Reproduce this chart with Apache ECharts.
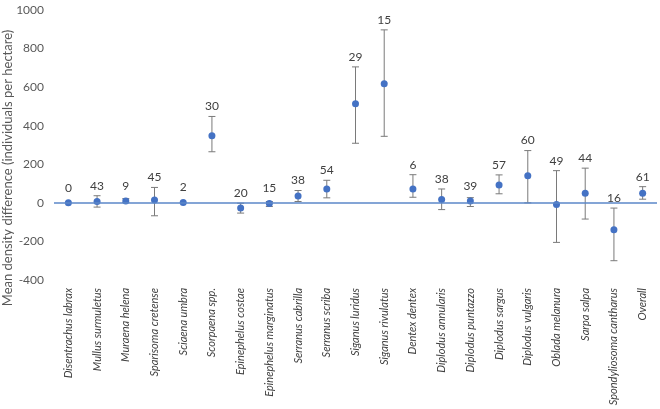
<!DOCTYPE html>
<html><head><meta charset="utf-8">
<script src="https://cdn.jsdelivr.net/npm/echarts@6/dist/echarts.min.js"></script>
<style>html,body{margin:0;padding:0;background:#fff}#c{width:660px;height:409px}</style>
</head><body><div id="c"></div>
<script>
var categories = ['Disentrachus labrax','Mullus surmuletus','Muraena helena','Sparisoma cretense','Sciaena umbra','Scorpaena spp.','Epinephelus costae','Epinephelus marginatus','Serranus cabrilla','Serranus scriba','Siganus luridus','Siganus rivulatus','Dentex dentex','Diplodus annularis','Diplodus puntazzo','Diplodus sargus','Diplodus vulgaris','Oblada melanura','Sarpa salpa','Spondyliosoma cantharus','Overall'];
var means = [0, 7, 10, 15, 2, 348, -27, -3, 36, 72, 514, 617, 72, 17, 10, 93, 141, -9, 50, -140, 50];
var upper = [0, 37, 22, 80, 2, 448, -2, 7, 64, 117, 705, 897, 146, 72, 27, 145, 271, 167, 180, -27, 84];
var lower = [0, -22, 2, -67, 2, 265, -53, -19, 7, 26, 309, 345, 29, -35, -19, 47, 0, -205, -84, -300, 19];
var counts = ['0','43','9','45','2','30','20','15','38','54','29','15','6','38','39','57','60','49','44','16','61'];
var yTicks = {min: -400, max: 1000, interval: 200};

var chart = echarts.init(document.getElementById('c'));
var errData = categories.map(function(c, i){ return [i, lower[i], upper[i], means[i], counts[i]]; });
chart.setOption({
  animation: false,
  grid: {left: 54, right: 3, top: 10, bottom: 129},
  xAxis: {
    type: 'category', data: categories,
    axisLine: {show: false, onZero: false}, axisTick: {show: false},
    axisLabel: {rotate: 90, margin: 8, fontSize: 11, fontStyle: 'italic', color: '#404040', fontFamily: 'Lato', interval: 0}
  },
  yAxis: {
    type: 'value', min: yTicks.min, max: yTicks.max, interval: yTicks.interval,
    splitLine: {show: false}, axisLine: {show: false}, axisTick: {show: false},
    axisLabel: {fontSize: 12, color: '#595959', fontFamily: 'Lato', margin: 10, formatter: function(v){ return String(v); }}
  },
  graphic: [{
    type: 'text', x: 8, y: 168, rotation: Math.PI/2,
    style: {text: 'Mean density difference (individuals per hectare)', fill: '#595959', font: '13px Lato', textAlign: 'center', textVerticalAlign: 'middle'}
  }],
  series: [
    {
      type: 'custom', data: errData, z: 2,
      renderItem: function(params, api){
        var x = api.coord([api.value(0), 0])[0];
        var lo = api.coord([api.value(0), api.value(1)])[1];
        var hi = api.coord([api.value(0), api.value(2)])[1];
        var mp = api.coord([api.value(0), api.value(3)])[1];
        var ch = [];
        var st = {stroke: '#7a7a7a', lineWidth: 1};
        if (Math.abs(lo - hi) > 2) {
          ch.push({type: 'line', shape: {x1: x, y1: hi, x2: x, y2: lo}, style: st});
          ch.push({type: 'line', shape: {x1: x-3.5, y1: hi, x2: x+3.5, y2: hi}, style: st});
          ch.push({type: 'line', shape: {x1: x-3.5, y1: lo, x2: x+3.5, y2: lo}, style: st});
        }
        var ty = Math.min(hi - 10, mp - 15);
        ch.push({type: 'text', x: x, y: ty, style: {text: counts[params.dataIndex], fill: '#404040', font: '12px Lato', textAlign: 'center', textVerticalAlign: 'middle'}});
        return {type: 'group', children: ch};
      }
    },
    {
      type: 'scatter', data: means, symbolSize: 7, z: 3,
      itemStyle: {color: '#4472C4', opacity: 1},
      markLine: {
        silent: true, symbol: 'none', label: {show: false},
        lineStyle: {color: '#5B87C9', width: 1.5, type: 'solid'},
        data: [{yAxis: 0}]
      }
    }
  ]
});
</script></body></html>
